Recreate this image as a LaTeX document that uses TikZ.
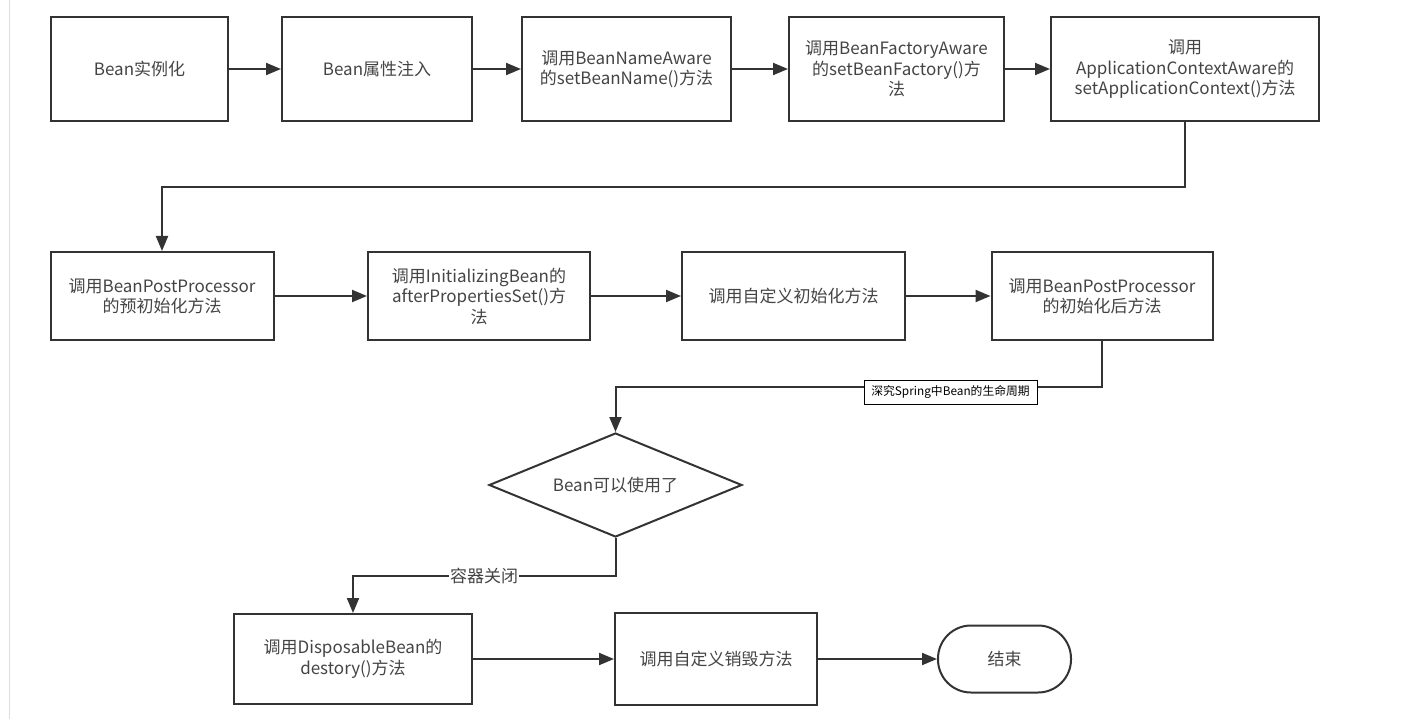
\documentclass[tikz,border=0pt]{standalone}
\usepackage{fontspec}
\setmainfont{Noto Sans CJK SC}
\usetikzlibrary{arrows.meta,shapes.geometric,calc}
\definecolor{linec}{HTML}{333333}
\definecolor{textc}{HTML}{444444}
\definecolor{edgec}{HTML}{DDDDDD}
\tikzset{
  box/.style={draw=linec, line width=2pt, rectangle, align=center, text=textc,
    font=\fontsize{17pt}{20.5pt}\selectfont, inner sep=2pt},
  decide/.style={draw=linec, line width=2pt, diamond, aspect=2.43, inner sep=0pt,
    align=center, text=textc, font=\fontsize{17pt}{20.5pt}\selectfont,
    minimum width=253pt, minimum height=104pt},
  endbox/.style={draw=linec, line width=2pt, rectangle, rounded corners=33pt,
    text=textc, font=\fontsize{17pt}{20.5pt}\selectfont,
    minimum width=133pt, minimum height=67pt},
  flow/.style={draw=linec, line width=2pt, -{Triangle[length=15pt,width=12pt]}},
  tagbox/.style={draw=black, line width=0.8pt, fill=white, text=black,
    font=\fontsize{11.8pt}{13pt}\selectfont, inner xsep=4pt, inner ysep=3pt,
    minimum width=173pt, minimum height=24pt},
  lbl/.style={fill=white, text=textc, font=\fontsize{17pt}{20.5pt}\selectfont,
    inner xsep=1pt, inner ysep=1pt}
}
\begin{document}
\begin{tikzpicture}[x=1pt,y=-1pt]
\useasboundingbox (0,0) rectangle (1412,719);
\draw[edgec, line width=1pt] (9.5,0) -- (9.5,719);

% row 1
\node[box, minimum width=177pt, minimum height=104pt] (b1) at (139.5,69) {Bean实例化};
\node[box, minimum width=190pt, minimum height=104pt] (b2) at (377,69) {Bean属性注入};
\node[box, minimum width=209pt, minimum height=104pt] (b3) at (626.5,69) {调用BeanNameAware\\的setBeanName()方法};
\node[box, minimum width=215pt, minimum height=104pt] (b4) at (896.5,69) {调用BeanFactoryAware\\的setBeanFactory()方\\法};
\node[box, minimum width=268pt, minimum height=104pt] (b5) at (1185,69) {调用\\ApplicationContextAware的\\setApplicationContext()方法};

% row 2
\node[box, minimum width=223pt, minimum height=88pt] (b6) at (162,296) {调用BeanPostProcessor\\的预初始化方法};
\node[box, minimum width=222pt, minimum height=88pt] (b7) at (479,296) {调用InitializingBean的\\afterPropertiesSet()方\\法};
\node[box, minimum width=223pt, minimum height=88pt] (b8) at (793.5,296) {调用自定义初始化方法};
\node[box, minimum width=221pt, minimum height=88pt] (b9) at (1102,296) {调用BeanPostProcessor\\的初始化后方法};

% decision
\node[decide] (d) at (615.5,485) {Bean可以使用了};

% row 3
\node[box, minimum width=238pt, minimum height=90pt] (b10) at (353,659) {调用DisposableBean的\\destory()方法};
\node[box, minimum width=202pt, minimum height=92pt] (b11) at (716,659) {调用自定义销毁方法};
\node[endbox] (e) at (1004.5,659) {结束};

% connectors
\draw[flow] (b1.east) -- (b2.west);
\draw[flow] (b2.east) -- (b3.west);
\draw[flow] (b3.east) -- (b4.west);
\draw[flow] (b4.east) -- (b5.west);
\draw[flow] (b5.south) -- ++(0,65) -| (b6.north);
\draw[flow] (b6.east) -- (b7.west);
\draw[flow] (b7.east) -- (b8.west);
\draw[flow] (b8.east) -- (b9.west);
\draw[flow] (b9.south) -- ++(0,46) -| (d.north);
\node[tagbox] (tag) at (950.5,392) {深究Spring中Bean的生命周期};
\draw[flow] (d.south) -- ++(0,38) -| (b10.north);
\node[lbl] (close) at (484,576) {容器关闭};
\draw[flow] (b10.east) -- (b11.west);
\draw[flow] (b11.east) -- (e.west);
\end{tikzpicture}
\end{document}
